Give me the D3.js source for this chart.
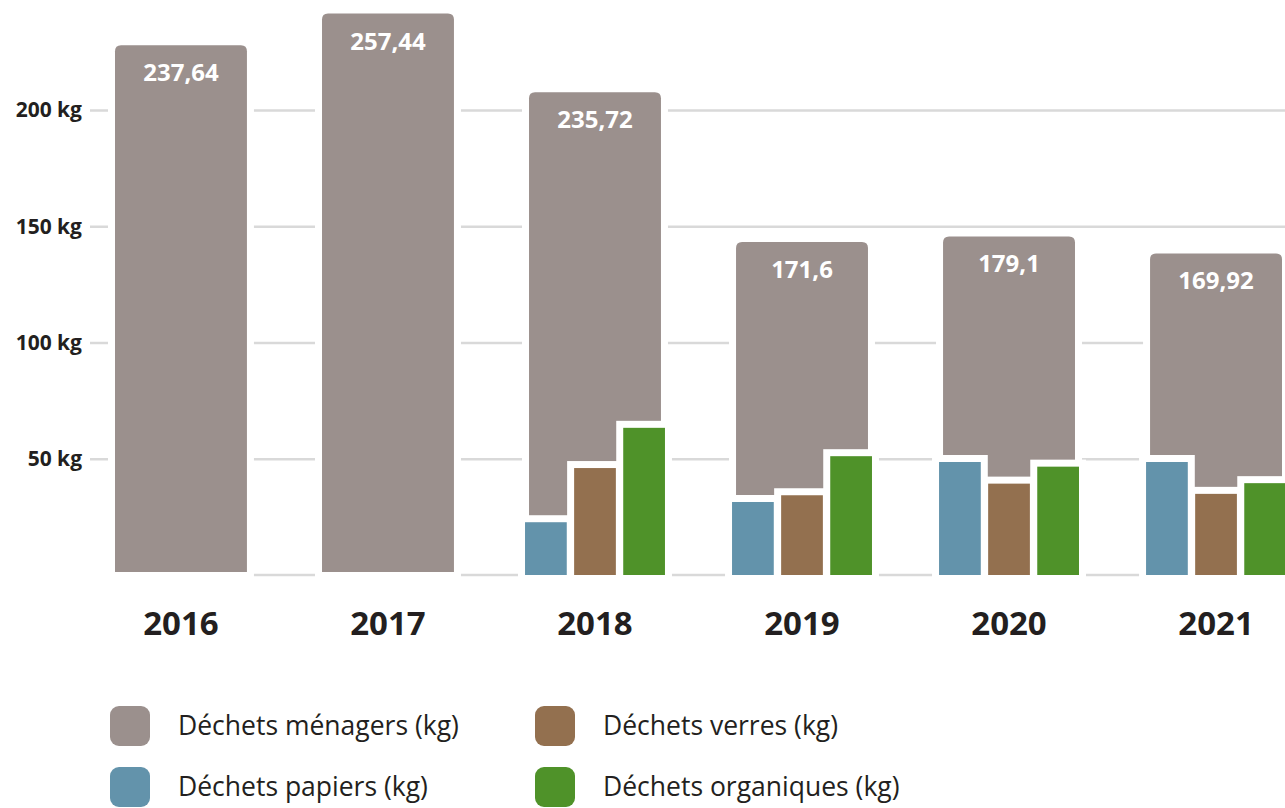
<!DOCTYPE html>
<html>
<head>
<meta charset="utf-8">
<script src="https://cdn.jsdelivr.net/npm/d3@7"></script>
<style>
  body { margin: 0; background: #fff; }
  svg { display: block; font-family: "Open Sans", sans-serif; }
</style>
</head>
<body>
<div id="chart"></div>
<script>
// values
var years = ['2016', '2017', '2018', '2019', '2020', '2021']
var menagers = [227.8, 241.5, 207.6, 143.2, 145.6, 138.3]
var menagersLabels = ['237,64', '257,44', '235,72', '171,6', '179,1', '169,92']
var papiers = [null, null, 22.7, 31.4, 48.6, 48.6]
var verres = [null, null, 46.0, 34.3, 39.3, 34.9]
var organiques = [null, null, 63.3, 51.1, 46.6, 39.5]
var yTicks = [50, 100, 150, 200]
var seriesNames = ['papiers', 'verres', 'organiques']
var legendLabels = ['Déchets ménagers (kg)', 'Déchets verres (kg)', 'Déchets papiers (kg)', 'Déchets organiques (kg)']
var legendKeys = ['menagers', 'verres', 'papiers', 'organiques']

var width = 1285
var height = 808
var textColor = '#231f20'

var colors = d3.scaleOrdinal()
  .domain(['menagers', 'papiers', 'verres', 'organiques'])
  .range(['#9b908d', '#6393ab', '#93704f', '#4f9229'])

var svg = d3.select('#chart')
  .append('svg')
  .attr('width', width)
  .attr('height', height)

var yScale = d3.scaleLinear()
  .domain([0, 200])
  .range([575, 110])

var xScale = d3.scaleBand()
  .domain(years)
  .range([111, 1286])
  .paddingInner(0.324)
  .paddingOuter(0)

var xInner = d3.scaleBand()
  .domain(seriesNames)
  .range([0, xScale.bandwidth()])
  .paddingInner(0.15)

// grid (the ticks at the left are part of the same lines)
var grid = d3.axisLeft(yScale)
  .tickValues(yTicks)
  .tickSize(-(width - 90))
  .tickFormat('')

svg.append('g')
  .attr('class', 'grid')
  .attr('transform', 'translate(90,0)')
  .call(grid)
  .call(g => g.select('.domain').remove())
  .selectAll('line')
  .attr('stroke', '#d9d9d9')
  .attr('stroke-width', 2.5)

// baseline, no tick on the left
svg.append('line')
  .attr('x1', xScale.range()[0])
  .attr('x2', width)
  .attr('y1', yScale(0))
  .attr('y2', yScale(0))
  .attr('stroke', '#d9d9d9')
  .attr('stroke-width', 2.5)

// y labels
svg.append('g')
  .selectAll('text')
  .data(yTicks)
  .enter()
  .append('text')
  .attr('x', 82)
  .attr('y', d => yScale(d))
  .attr('dy', '0.35em')
  .attr('text-anchor', 'end')
  .style('font-size', '21px')
  .style('font-weight', 700)
  .style('fill', textColor)
  .text(d => d + ' kg')

// grey bars with rounded top
var barW = xScale.bandwidth() - 8
function topRounded(x, y, w, h, r) {
  return `M${x},${y + h}V${y + r}Q${x},${y} ${x + r},${y}H${x + w - r}Q${x + w},${y} ${x + w},${y + r}V${y + h}Z`
}

var menData = years.map((y, i) => ({ year: y, val: menagers[i], label: menagersLabels[i] }))

svg.append('g')
  .selectAll('path')
  .data(menData)
  .enter()
  .append('path')
  .attr('d', d => {
    var x = xScale(d.year) + 4
    var top = yScale(d.val)
    return topRounded(x, top, barW, yScale(0) - 3 - top, 6)
  })
  .attr('fill', colors('menagers'))
  .attr('stroke', '#fff')
  .attr('stroke-width', 14)
  .style('paint-order', 'stroke')

svg.append('g')
  .selectAll('text')
  .data(menData)
  .enter()
  .append('text')
  .attr('x', d => xScale(d.year) + xScale.bandwidth() / 2)
  .attr('y', d => yScale(d.val) + 36)
  .attr('text-anchor', 'middle')
  .style('font-size', '24px')
  .style('font-weight', 700)
  .style('fill', '#fff')
  .text(d => d.label)

// small bars
var small = []
years.forEach((y, i) => {
  var vals = { papiers: papiers[i], verres: verres[i], organiques: organiques[i] }
  seriesNames.forEach(s => {
    if (vals[s] != null) small.push({ year: y, key: s, val: vals[s] })
  })
})

svg.append('g')
  .selectAll('rect')
  .data(small)
  .enter()
  .append('rect')
  .attr('x', d => xScale(d.year) + xInner(d.key))
  .attr('y', d => yScale(d.val))
  .attr('width', xInner.bandwidth())
  .attr('height', d => yScale(0) - yScale(d.val))
  .attr('fill', d => colors(d.key))
  .attr('stroke', '#fff')
  .attr('stroke-width', 14)
  .style('paint-order', 'stroke')

// x labels
svg.append('g')
  .selectAll('text')
  .data(years)
  .enter()
  .append('text')
  .attr('x', d => xScale(d) + xScale.bandwidth() / 2)
  .attr('y', 635)
  .attr('text-anchor', 'middle')
  .style('font-size', '33px')
  .style('font-weight', 700)
  .style('fill', textColor)
  .text(d => d)

// legend
var legend = svg.append('g')
  .selectAll('g')
  .data(legendKeys)
  .enter()
  .append('g')
  .attr('transform', (d, i) => `translate(${i % 2 === 0 ? 110 : 535},${i < 2 ? 706 : 767})`)

legend.append('rect')
  .attr('width', 40)
  .attr('height', 40)
  .attr('rx', 9)
  .attr('fill', d => colors(d))

legend.append('text')
  .attr('x', 68)
  .attr('y', 20)
  .attr('dy', '0.35em')
  .style('font-size', '26.5px')
  .style('fill', textColor)
  .text((d, i) => legendLabels[i])
</script>
</body>
</html>
